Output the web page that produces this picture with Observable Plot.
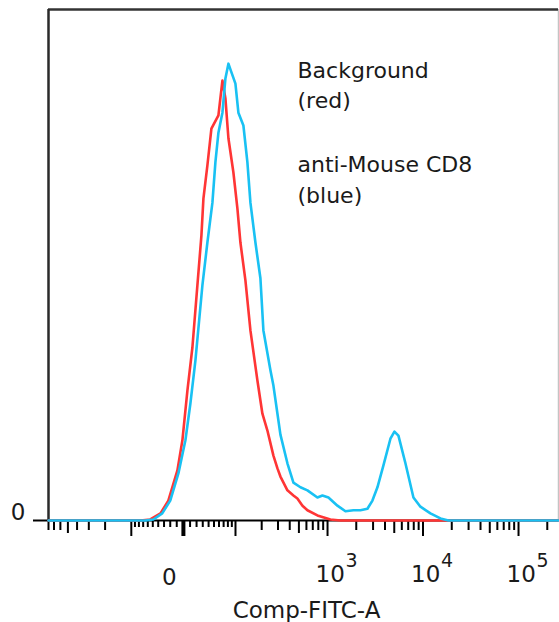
<!DOCTYPE html>
<html>
<head>
<meta charset="utf-8">
<script src="https://cdn.jsdelivr.net/npm/d3@7"></script>
<script src="https://cdn.jsdelivr.net/npm/@observablehq/plot@0.6"></script>
<style>
  html, body { margin: 0; padding: 0; background: #fff; }
  svg { display: block; }
</style>
</head>
<body>
<div id="chart"></div>
<script>
// ---- Data (Comp-FITC-A intensity, histogram height as % of axis maximum) ----
const bgX = [-800, -76, -55, -36, -23, -9, -1.5, 6, 13.6, 21.3, 27.8, 31.1, 37.9, 45.1, 58.8, 67.3, 74.1, 81.3, 94.2, 105.5, 114.7, 131.3, 149.8, 179.4, 203.6, 230.8, 268, 296, 318.5, 378, 437.6, 482, 545, 615, 783, 1072, 1365, 262144];
const bgCount = [0, 0, 0.2, 1.4, 3.9, 9.8, 15.7, 25.4, 33.9, 46.0, 55.8, 63.0, 69.5, 76.7, 79.3, 86.1, 82.6, 74.8, 68.1, 61.1, 54.4, 47.0, 37.2, 27.4, 20.9, 17.6, 12.7, 10.2, 8.6, 5.9, 4.9, 4.3, 2.9, 2.0, 1.0, 0.2, 0, 0];

const cd8X = [-800, -65, -49, -33, -20, -7.5, 3, 10.5, 18.2, 29.4, 37.9, 47, 52.7, 58.8, 67.3, 74.1, 81.3, 89, 99.8, 108.5, 124.4, 138.4, 149.8, 170.5, 193.6, 208.8, 248.8, 268, 296, 318.5, 378, 437.6, 518.8, 615, 783, 884, 1022, 1270, 1541, 1869, 2212, 2618, 2954, 3333, 3851, 4559, 5020, 5529, 6545, 7939, 9394, 11960, 15221, 18458, 262144];
const cd8Count = [0, 0, 0.2, 1.4, 3.9, 9.2, 15.7, 22.9, 31.3, 46.0, 54.4, 62.2, 70.1, 75.9, 79.8, 86.5, 89.4, 87.7, 85.5, 79.8, 77.3, 70.1, 62.2, 54.4, 47.4, 37.2, 29.4, 26.4, 20.9, 16.8, 11.2, 7.4, 6.5, 5.9, 4.5, 4.9, 4.5, 2.9, 1.8, 2.0, 2.0, 2.3, 3.9, 6.5, 10.8, 16.0, 17.4, 16.6, 11.2, 4.5, 2.7, 1.4, 0.4, 0, 0];

const xDomainRaw = [-800, 262144];
const majorTicks = [-100, 0, 100, 1000, 10000, 100000];
const midTicks = [-500, 500, 5000, 50000];
const minorTicks = [-800, -700, -600, -400, -300, -200, 200, 300, 400, 600, 700, 800, 900, 2000, 3000, 4000, 6000, 7000, 8000, 9000, 20000, 30000, 40000, 60000, 70000, 80000, 90000, 200000];
const fineTicks = [-90, -80, -70, -60, -50, -40, -30, -20, -10, 10, 20, 30, 40, 50, 60, 70, 80, 90];
const zeroLabel = ["0"];
const decadeValues = [1000, 10000, 100000];
const decadeExponents = ["3", "4", "5"];
const legendLines = ["Background", "(red)", "anti-Mouse CD8", "(blue)"];
const xLabel = "Comp-FITC-A";
const yZeroLabel = ["0"];

// biexponential-like display transform (arcsinh)
const C = 62;
const biex = v => Math.asinh(v / C) / Math.LN10;

const bgData = bgX.map((x, i) => ({x: biex(x), y: bgCount[i]}));
const cd8Data = cd8X.map((x, i) => ({x: biex(x), y: cd8Count[i]}));

const RED = "#ff3535";
const BLUE = "#19c1f3";
const INK = "#1a1a1a";

const chart = Plot.plot({
  width: 559,
  height: 622,
  marginLeft: 48,
  marginRight: 1,
  marginTop: 9,
  marginBottom: 102,
  x: {type: "linear", domain: xDomainRaw.map(biex), label: null},
  y: {domain: [0, 100], label: null},
  style: {fontFamily: "'DejaVu Sans', sans-serif", background: "#fff", color: INK, overflow: "visible"},
  marks: [
    // frame
    Plot.ruleX([biex(xDomainRaw[1])], {stroke: "#c4c4c4", strokeWidth: 1.5}),
    Plot.ruleY([100], {stroke: "#333", strokeWidth: 2.5}),
    Plot.ruleX([biex(xDomainRaw[0])], {stroke: "#2a2a2a", strokeWidth: 2.5}),
    // x ticks
    Plot.axisX(fineTicks.map(biex), {tickSize: 7, strokeWidth: 2, stroke: "#000", tickFormat: () => "", label: null}),
    Plot.axisX(minorTicks.map(biex), {tickSize: 10, strokeWidth: 2, stroke: "#000", tickFormat: () => "", label: null}),
    Plot.axisX(midTicks.map(biex), {tickSize: 13, strokeWidth: 2, stroke: "#000", tickFormat: () => "", label: null}),
    Plot.axisX(majorTicks.map(biex), {tickSize: 16, strokeWidth: 2, stroke: "#000", tickFormat: () => "", label: null}),
    Plot.axisX([biex(0)], {tickSize: 16, strokeWidth: 4, stroke: "#000", tickFormat: () => "", label: null}),
    // y tick at zero
    Plot.axisY([0], {tickSize: 15, strokeWidth: 2, stroke: "#000", tickFormat: () => "", label: null}),
    // baseline axis
    Plot.ruleY([0], {stroke: "#000", strokeWidth: 2}),
    // histograms
    Plot.line(bgData, {x: "x", y: "y", stroke: RED, strokeWidth: 2.6, strokeLinejoin: "round"}),
    Plot.line(cd8Data, {x: "x", y: "y", stroke: BLUE, strokeWidth: 2.6, strokeLinejoin: "round"}),
    // x tick labels
    Plot.text([0], {x: d => biex(d), text: (d, i) => zeroLabel[i], frameAnchor: "bottom", lineAnchor: "middle", dx: -14, dy: 57, fontSize: 23, fill: INK}),
    Plot.text(decadeValues, {x: d => biex(d), text: () => "10", frameAnchor: "bottom", lineAnchor: "middle", textAnchor: "start", dx: -12, dy: 54, fontSize: 23, fill: INK}),
    Plot.text(decadeValues, {x: d => biex(d), text: (d, i) => decadeExponents[i], frameAnchor: "bottom", lineAnchor: "middle", textAnchor: "start", dx: 18, dy: 40, fontSize: 19, fill: INK}),
    // y zero label
    Plot.text(yZeroLabel, {text: d => d, frameAnchor: "bottom-left", lineAnchor: "middle", textAnchor: "end", dx: -23, dy: -8, fontSize: 23, fill: INK}),
    // x axis label
    Plot.text([xLabel], {text: d => d, frameAnchor: "bottom", lineAnchor: "middle", dx: 3, dy: 90, fontSize: 23, fill: INK}),
    // legend annotation
    Plot.text([legendLines[0]], {text: d => d, frameAnchor: "top-left", lineAnchor: "middle", textAnchor: "start", dx: 249, dy: 61, fontSize: 22, fill: INK}),
    Plot.text([legendLines[1]], {text: d => d, frameAnchor: "top-left", lineAnchor: "middle", textAnchor: "start", dx: 249, dy: 91, fontSize: 22, fill: INK}),
    Plot.text([legendLines[2]], {text: d => d, frameAnchor: "top-left", lineAnchor: "middle", textAnchor: "start", dx: 249, dy: 155, fontSize: 22, fill: INK}),
    Plot.text([legendLines[3]], {text: d => d, frameAnchor: "top-left", lineAnchor: "middle", textAnchor: "start", dx: 249, dy: 186, fontSize: 22, fill: INK})
  ]
});
document.getElementById("chart").appendChild(chart);
</script>
</body>
</html>
